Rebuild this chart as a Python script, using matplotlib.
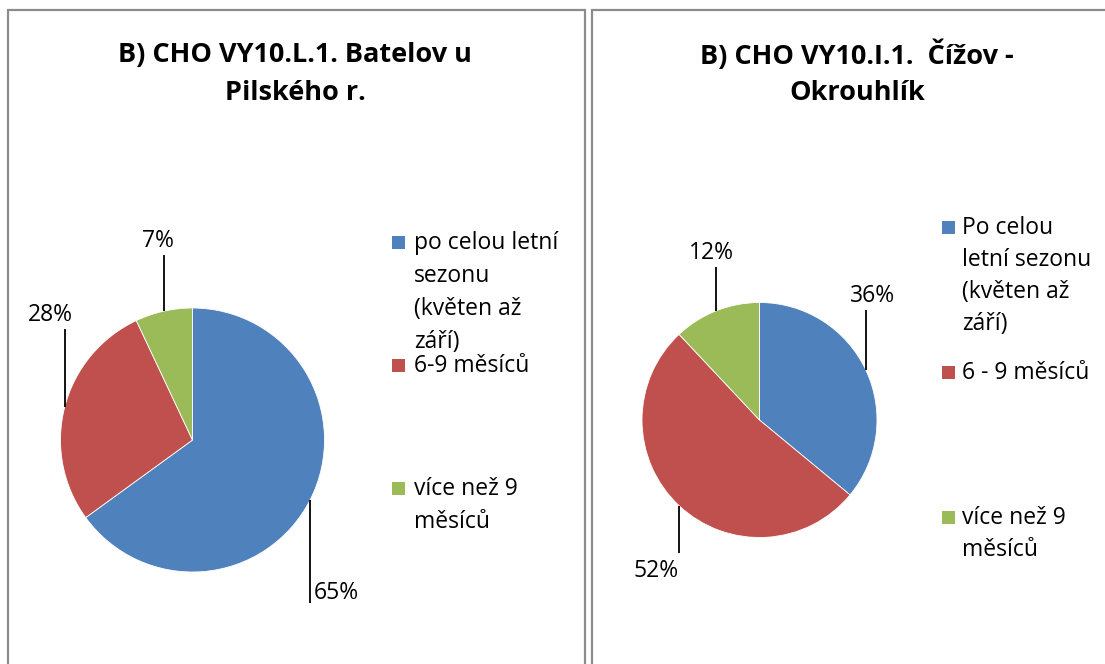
import numpy as np
import matplotlib
matplotlib.use("Agg")
import matplotlib.pyplot as plt
from matplotlib.patches import Rectangle

plt.rcParams['font.family'] = ['Open Sans', 'DejaVu Sans']

# ---------------- data ----------------
titles = ["B) CHO VY10.L.1. Batelov u\nPilského r.",
          "B) CHO VY10.I.1.  Čížov -\nOkrouhlík"]
categories_left = ["po celou letní\nsezonu\n(květen až\nzáří)",
                   "6-9 měsíců",
                   "více než 9\nměsíců"]
categories_right = ["Po celou\nletní sezonu\n(květen až\nzáří)",
                    "6 - 9 měsíců",
                    "více než 9\nměsíců"]
values_left = [65, 28, 7]
values_right = [36, 52, 12]
colors = ["#4F81BD", "#C0504D", "#9BBB59"]

W, H = 1105, 664
fig = plt.figure(figsize=(W / 100, H / 100), dpi=100)
ax = fig.add_axes([0, 0, 1, 1])


def py(y):  # convert top-down pixel y to data y
    return H - y


# panel borders
border = dict(fill=False, edgecolor="#8C8C8C", linewidth=1.6)
ax.add_patch(Rectangle((8, py(700)), 577, 690, **border))
ax.add_patch(Rectangle((592, py(700)), 560, 690, **border))

panels = [
    dict(title=titles[0], cats=categories_left, vals=values_left,
         center=(192.5, 440), radius=132, title_x=295,
         # label styles: (line length px, text dx, ha)
         lab=[(103, 4, "left"), (-78, 8, "right"), (-56, -6, "center")],
         leg_sq_x=392, leg_tx=414, leg_y=[243, 366, 489], pitch=33),
    dict(title=titles[1], cats=categories_right, vals=values_right,
         center=(759.5, 420), radius=117.5, title_x=857,
         lab=[(-60, 7, "center"), (47, 0, "right"), (-44, -5, "center")],
         leg_sq_x=942, leg_tx=962, leg_y=[228, 373, 518], pitch=32),
]

lab_fs = 16.5
for p in panels:
    # title
    for i, line in enumerate(p["title"].split("\n")):
        ax.text(p["title_x"], py(55 + i * 38), line, ha="center", va="center",
                fontsize=19.5, fontweight="bold", color="black")
    cx, cy = p["center"]
    r = p["radius"]
    wedges, _ = ax.pie(p["vals"], colors=colors, startangle=90, counterclock=False,
                       center=(cx, py(cy)), radius=r,
                       wedgeprops=dict(edgecolor="white", linewidth=0.6))
    total = sum(p["vals"])
    for w, v, (ln, dx, ha) in zip(wedges, p["vals"], p["lab"]):
        mid = np.deg2rad((w.theta1 + w.theta2) / 2)
        ex = cx + r * np.cos(mid)
        ey = py(cy) + r * np.sin(mid)
        ey2 = ey - ln
        ax.plot([ex, ex], [ey, ey2], color="black", lw=1.3, solid_capstyle="butt")
        txt = f"{round(100 * v / total)}%"
        if ln > 0:  # line goes down, text below/beside
            if ha == "left":
                ax.text(ex + dx, ey2 - 2, txt, ha="left", va="bottom", fontsize=lab_fs)
            else:
                ax.text(ex + dx, ey2 - 6, txt, ha=ha, va="top", fontsize=lab_fs)
        else:
            ax.text(ex + dx, ey2 + 2, txt, ha=ha, va="bottom", fontsize=lab_fs)
    # legend
    for c, cat, ly in zip(colors, p["cats"], p["leg_y"]):
        ax.add_patch(Rectangle((p["leg_sq_x"], py(ly + 6)), 13, 13,
                               facecolor=c, edgecolor="none"))
        for i, line in enumerate(cat.split("\n")):
            ax.text(p["leg_tx"], py(ly + i * p["pitch"]), line, ha="left",
                    va="center", fontsize=lab_fs, color="black")

ax.set_xlim(0, W)
ax.set_ylim(0, H)
ax.set_aspect("equal")
ax.axis("off")
fig.savefig("out.png", dpi=100)
